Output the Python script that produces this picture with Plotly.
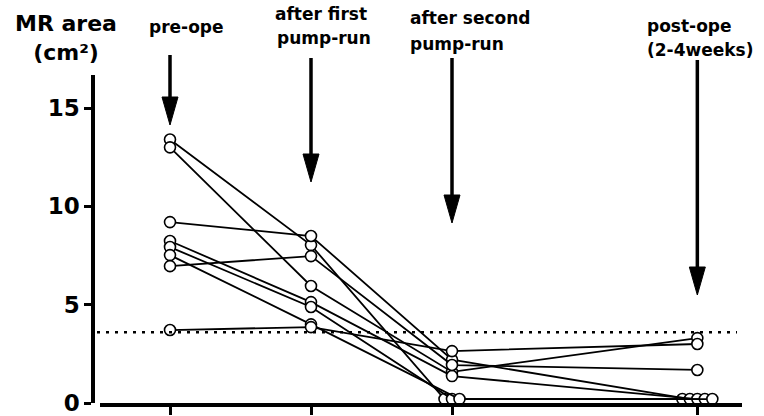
import plotly.graph_objects as go

# ---- data ----
stages = ["pre-ope", "after first pump-run", "after second pump-run", "post-ope (2-4weeks)"]
stage_x = [0, 1, 2, 3.74]
patients = {
    "P1": [13.4, 8.03, 0.2, 0.2],
    "P2": [13.0, 5.95, 1.58, 3.3],
    "P3": [9.2, 8.49, 2.2, 0.2],
    "P4": [8.24, 5.13, 1.37, 0.2],
    "P5": [7.93, 4.88, 0.2, 0.2],
    "P6": [7.52, 4.0, 0.2, 0.2],
    "P7": [6.96, 7.47, 1.93, 1.68],
    "P8": [3.71, 3.86, 2.64, 3.0],
}
threshold = 3.6
y_ticks = [0, 5, 10, 15]

# ---- geometry (body margin removed by post_script, figure fills the page) ----
W, H = 764, 416
ML, MR, MT, MB = 90, 22, 75, 13          # plot area: x 90..742, y 75..403
PW, PH = W - ML - MR, H - MT - MB
PX_PER_X = 141.0
X0_PIX = 170
XMIN = (100 - X0_PIX) / PX_PER_X
XMAX = (742 - X0_PIX) / PX_PER_X
YMAX = 16.68

def py2paper(py):
    return (403 - py) / PH

def px2paper(px):
    return (px - 90) / PW

# jitter for identical (zero) values inside a stage
names = list(patients)
xs = {n: [] for n in names}
for si, sx in enumerate(stage_x):
    groups = {}
    for n in names:
        groups.setdefault(patients[n][si], []).append(n)
    for v, members in groups.items():
        k = len(members)
        step = 7.5 / PX_PER_X
        for j, n in enumerate(members):
            off = (j - (k - 1) / 2) * step if k > 1 else 0
            xs[n].append(sx + off)

fig = go.Figure()
for n in names:
    fig.add_trace(go.Scatter(
        x=xs[n], y=patients[n], mode="lines+markers",
        line=dict(color="black", width=1.8),
        marker=dict(symbol="circle", size=11, color="white",
                    line=dict(color="black", width=1.6)),
        cliponaxis=False, showlegend=False, hoverinfo="skip"))

shapes = []
shapes.append(dict(type="line", xref="paper", yref="y",
                   x0=px2paper(97), x1=px2paper(737), y0=threshold, y1=threshold,
                   line=dict(color="black", width=2.5, dash="3px,6px")))

arrow_top = [55, 58, 58, 60]
arrow_tip = [125, 182, 223, 295]
head_len = 28
head_hw = 8 / PX_PER_X
for sx, top, tip in zip(stage_x, arrow_top, arrow_tip):
    shapes.append(dict(type="line", xref="x", yref="paper",
                       x0=sx, x1=sx, y0=py2paper(top), y1=py2paper(tip - head_len + 2),
                       line=dict(color="black", width=3.5)))
    path = "M {a},{b} L {c},{b} L {d},{e} Z".format(
        a=sx - head_hw, b=py2paper(tip - head_len), c=sx + head_hw,
        d=sx, e=py2paper(tip))
    shapes.append(dict(type="path", xref="x", yref="paper", path=path,
                       fillcolor="black", line=dict(color="black", width=1)))

FONT = "DejaVu Sans"
ann = []
def label(text, px, py, size=17, anchor="left"):
    ann.append(dict(text=text, xref="paper", yref="paper",
                    x=px2paper(px), y=py2paper(py), xanchor=anchor, yanchor="middle",
                    align="center" if anchor == "center" else "left",
                    showarrow=False, font=dict(family=FONT, size=size, color="black")))

label("<b>MR area</b><br><b>(cm²)</b>", 66, 38, size=22, anchor="center")
label("<b>pre-ope</b>", 147, 27)
label("<b>after first</b>", 273, 14)
label("<b>pump-run</b>", 275, 38)
label("<b>after second</b>", 408, 18)
label("<b>pump-run</b>", 408, 44)
label("<b>post-ope</b>", 645, 26)
label("<b>(2-4weeks)</b>", 645, 50)

fig.update_layout(
    width=W, height=H, margin=dict(l=ML, r=MR, t=MT, b=MB, autoexpand=False),
    paper_bgcolor="white", plot_bgcolor="white",
    shapes=shapes, annotations=ann,
    xaxis=dict(domain=[10 / PW, 1], range=[XMIN, XMAX], showgrid=False, zeroline=False,
               automargin=False,
               showline=True, linecolor="black", linewidth=4,
               ticks="outside", ticklen=8, tickwidth=3, tickcolor="black",
               tickvals=stage_x, ticktext=stages, showticklabels=False),
    yaxis=dict(anchor="free", position=3 / PW, range=[0, YMAX],
               showgrid=False, zeroline=False, automargin=False,
               ticklabeloverflow="allow",
               showline=True, linecolor="black", linewidth=3.5,
               ticks="outside", ticklen=7, tickwidth=3, tickcolor="black",
               tickvals=y_ticks, ticktext=["<b>%d</b>" % t for t in y_ticks],
               tickfont=dict(family=FONT, size=23, color="black")),
)

fig.write_html("out.html", config={"displayModeBar": False, "responsive": False},
               post_script="document.body.style.margin='0';")
